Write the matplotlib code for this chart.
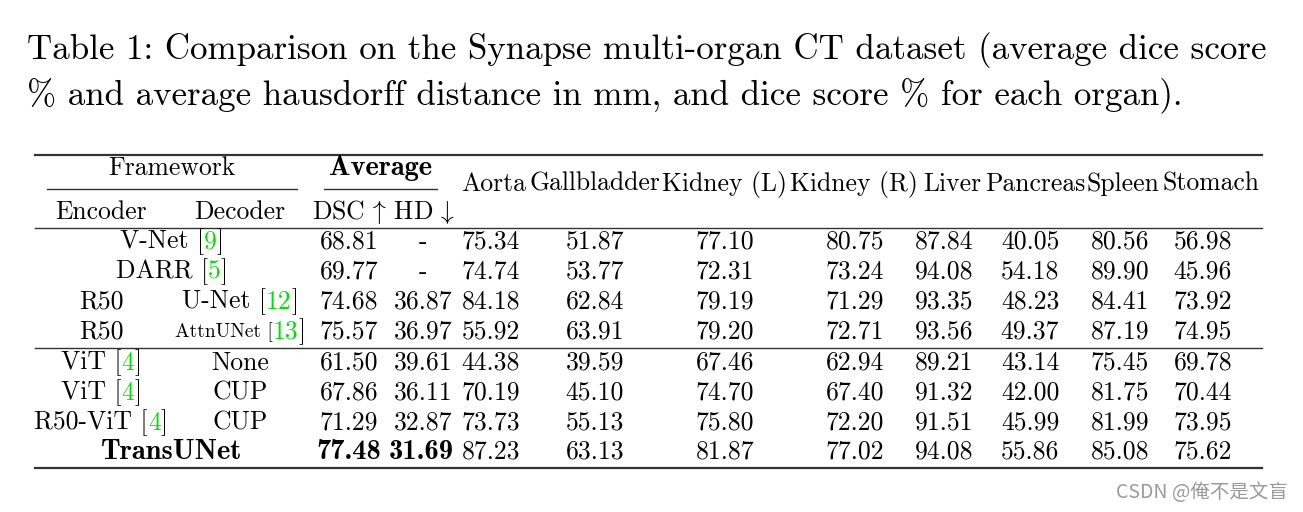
import matplotlib
matplotlib.use("Agg")
import matplotlib.pyplot as plt

plt.rcParams['mathtext.fontset'] = 'cm'
plt.rcParams['axes.unicode_minus'] = False

# table content
title_lines = [
    "Table 1: Comparison on the Synapse multi-organ CT dataset (average dice score",
    "% and average hausdorff distance in mm, and dice score % for each organ).",
]
organs = ["Aorta", "Gallbladder", "Kidney (L)", "Kidney (R)", "Liver", "Pancreas", "Spleen", "Stomach"]

# framework: encoder / decoder names with citation numbers
encoders = ["V-Net", "DARR", "R50", "R50", "ViT", "ViT", "R50-ViT", "TransUNet"]
encoder_refs = ["9", "5", None, None, "4", "4", "4", None]
decoders = [None, None, "U-Net", "AttnUNet", "None", "CUP", "CUP", None]
decoder_refs = [None, None, "12", "13", None, None, None, None]
merged = [True, True, False, False, False, False, False, True]

dsc = ["68.81", "69.77", "74.68", "75.57", "61.50", "67.86", "71.29", "77.48"]
hd = ["-", "-", "36.87", "36.97", "39.61", "36.11", "32.87", "31.69"]
organ_scores = [
    ["75.34", "51.87", "77.10", "80.75", "87.84", "40.05", "80.56", "56.98"],
    ["74.74", "53.77", "72.31", "73.24", "94.08", "54.18", "89.90", "45.96"],
    ["84.18", "62.84", "79.19", "71.29", "93.35", "48.23", "84.41", "73.92"],
    ["55.92", "63.91", "79.20", "72.71", "93.56", "49.37", "87.19", "74.95"],
    ["44.38", "39.59", "67.46", "62.94", "89.21", "43.14", "75.45", "69.78"],
    ["70.19", "45.10", "74.70", "67.40", "91.32", "42.00", "81.75", "70.44"],
    ["73.73", "55.13", "75.80", "72.20", "91.51", "45.99", "81.99", "73.95"],
    ["87.23", "63.13", "81.87", "77.02", "94.08", "55.86", "85.08", "75.62"],
]

W, H = 1303, 512
fig = plt.figure(figsize=(W / 100, H / 100), dpi=100)
ax = fig.add_axes([0, 0, 1, 1])
ax.set_xlim(0, W)
ax.set_ylim(H, 0)
ax.axis('off')
renderer = fig.canvas.get_renderer()

RM = 'cmr10'
BF = 'cmb10'
FS = 18.5
BFS = 20.5
GREEN = '#00e000'


def seg_text(xc, y, parts):
    # parts: list of (text, color, family, size); centred at xc
    objs = []
    widths = []
    for txt, col, fam, size in parts:
        t = ax.text(0, y, txt, color=col, family=fam, fontsize=size, va='center', ha='left')
        w = t.get_window_extent(renderer).width
        objs.append(t)
        widths.append(w)
    x = xc - sum(widths) / 2
    for t, w in zip(objs, widths):
        t.set_x(x)
        x += w


def name_with_ref(xc, y, name, ref, fs=FS, fam=RM):
    if ref is None:
        seg_text(xc, y, [(name, 'black', fam, fs)])
    else:
        seg_text(xc, y, [(name + " [", 'black', fam, fs), (ref, GREEN, RM, FS), ("]", 'black', RM, FS)])


# title
ax.text(27, 50, title_lines[0], family=RM, fontsize=25.2, va='center', ha='left')
ax.text(27, 95, title_lines[1], family=RM, fontsize=25.2, va='center', ha='left')

# rules
ax.plot([35, 1262], [155, 155], color='#333333', lw=1.6)
ax.plot([47, 297], [189, 189], color='#333333', lw=1.0)
ax.plot([324, 437], [189, 189], color='#333333', lw=1.0)
ax.plot([35, 1262], [228, 228], color='#333333', lw=1.0)
ax.plot([35, 1262], [348, 348], color='#333333', lw=1.0)
ax.plot([35, 1262], [468, 468], color='#333333', lw=1.6)

# header
ax.text(172, 168, "Framework", family=RM, fontsize=FS, va='center', ha='center')
ax.text(381, 168, "Average", family=BF, fontsize=BFS, va='center', ha='center')
ax.text(101, 212, "Encoder", family=RM, fontsize=FS, va='center', ha='center')
ax.text(240, 212, "Decoder", family=RM, fontsize=FS, va='center', ha='center')
ax.text(384, 212, r"DSC$\,\uparrow\,$HD$\,\downarrow$", family=RM, fontsize=FS, va='center', ha='center')
organ_x = [494, 595, 725, 854, 952, 1035, 1123, 1211]
for ox, name in zip(organ_x, organs):
    ax.text(ox, 184, name, family=RM, fontsize=FS, va='center', ha='center')

# body
row_y = [242, 272, 302, 332, 363, 393, 423, 452]
score_x = [491, 595, 725, 855, 944, 1030, 1120, 1203]
for i, y in enumerate(row_y):
    bold = encoders[i] == "TransUNet"
    fam = BF if bold else RM
    fs = BFS if bold else FS
    if merged[i]:
        name_with_ref(172, y, encoders[i], encoder_refs[i], fs=fs, fam=fam)
    else:
        name_with_ref(101, y, encoders[i], encoder_refs[i])
        dec_fs = 14 if decoders[i] == "AttnUNet" else FS
        name_with_ref(240, y, decoders[i], decoder_refs[i], fs=dec_fs)
    ax.text(349, y, dsc[i], family=fam, fontsize=fs, va='center', ha='center')
    ax.text(421 if bold else 423, y, hd[i], family=fam, fontsize=fs, va='center', ha='center')
    for sx, v in zip(score_x, organ_scores[i]):
        ax.text(sx, y, v, family=RM, fontsize=FS, va='center', ha='center')

# watermark
ax.text(1288, 492, "CSDN @俺不是文盲", family=['Noto Sans CJK SC', 'DejaVu Sans'],
        fontsize=14, color='#9a9a9a', va='center', ha='right')

fig.savefig('out.png', dpi=100)
